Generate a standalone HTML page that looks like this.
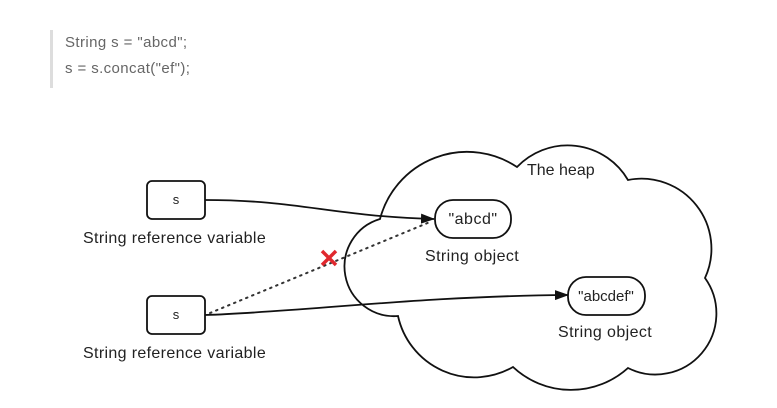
<!DOCTYPE html>
<html><head><meta charset="utf-8"><style>
body{margin:0;background:#fff;width:777px;height:408px;overflow:hidden;}
.code{position:absolute;left:50px;top:30px;height:58px;border-left:3px solid #ddd;padding-left:12px;font-family:"Liberation Sans",sans-serif;font-size:15px;letter-spacing:0.4px;color:#666;line-height:26px;}
</style></head><body>
<div class="code">String s = "abcd";<br>s = s.concat("ef");</div>
<svg width="777" height="408" style="position:absolute;left:0;top:0" font-family="Liberation Sans, sans-serif">
<defs><marker id="a" markerWidth="14" markerHeight="10" refX="13" refY="5" orient="auto" markerUnits="userSpaceOnUse"><path d="M0,0 L14,5 L0,10 z" fill="#111"/></marker></defs>
<path d="M380,219 A90,90 0 0 1 517,167 A70,70 0 0 1 628,180 A70,70 0 0 1 705,278 A61,61 0 0 1 628,368 A85,85 0 0 1 513,367 A78,78 0 0 1 398,316 A49.6,49.6 0 0 1 380,219 Z" fill="#fff" stroke="#111" stroke-width="1.8"/>
<text x="527" y="175" font-size="16" fill="#222">The heap</text>
<rect x="147" y="181" width="58" height="38" rx="5" fill="#fff" stroke="#111" stroke-width="1.8"/>
<text x="176" y="204" font-size="13" text-anchor="middle" fill="#222">s</text>
<text x="83" y="243" font-size="16" letter-spacing="0.35" fill="#222">String reference variable</text>
<rect x="147" y="296" width="58" height="38" rx="5" fill="#fff" stroke="#111" stroke-width="1.8"/>
<text x="176" y="319" font-size="13" text-anchor="middle" fill="#222">s</text>
<text x="83" y="358" font-size="16" letter-spacing="0.35" fill="#222">String reference variable</text>
<rect x="435" y="200" width="76" height="38" rx="18" fill="#fff" stroke="#111" stroke-width="1.8"/>
<text x="473" y="224" font-size="16" letter-spacing="0.5" text-anchor="middle" fill="#222">"abcd"</text>
<text x="425" y="261" font-size="16" letter-spacing="0.4" fill="#222">String object</text>
<rect x="568" y="277" width="77" height="38" rx="18" fill="#fff" stroke="#111" stroke-width="1.8"/>
<text x="606" y="301" font-size="15" text-anchor="middle" fill="#222">"abcdef"</text>
<text x="558" y="337" font-size="16" letter-spacing="0.4" fill="#222">String object</text>
<path d="M205,200 C300,200 330,216 434,219" fill="none" stroke="#111" stroke-width="1.8" marker-end="url(#a)"/>
<path d="M205,315 C300,312 420,296 568,295" fill="none" stroke="#111" stroke-width="1.8" marker-end="url(#a)"/>
<path d="M210,313 L430,222" fill="none" stroke="#333" stroke-width="2" stroke-dasharray="1.5,5" stroke-linecap="round"/>
<path d="M322,251 L336,265 M336,251 L322,265" stroke="#e0282e" stroke-width="3.5"/>
</svg>
</body></html>
